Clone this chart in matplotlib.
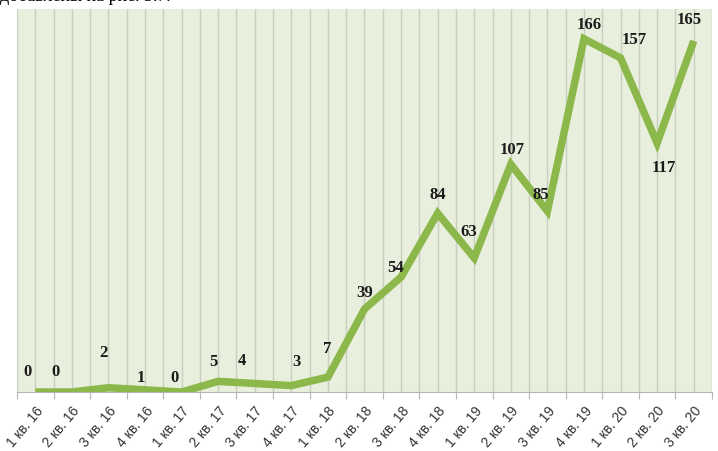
import matplotlib.pyplot as plt
import numpy as np

quarters = ['1 кв. 16', '2 кв. 16', '3 кв. 16', '4 кв. 16',
            '1 кв. 17', '2 кв. 17', '3 кв. 17', '4 кв. 17',
            '1 кв. 18', '2 кв. 18', '3 кв. 18', '4 кв. 18',
            '1 кв. 19', '2 кв. 19', '3 кв. 19', '4 кв. 19',
            '1 кв. 20', '2 кв. 20', '3 кв. 20']
counts = [0, 0, 2, 1, 0, 5, 4, 3, 7, 39, 54, 84, 63, 107, 85, 166, 157, 117, 165]

# label offsets in pixels (dx, dy) relative to each point
offs = [(-8, 21), (-16, 21), (-5, 36), (-4, 13), (-7, 15), (-5, 20), (-13, 23),
        (5, 25), (-1, 29), (0, 17), (-6, 10), (0, 19), (-5, 27), (1, 15),
        (-7, 17), (5, 15), (14, 19), (7, -24), (-5, 22)]

fig = plt.figure(figsize=(7.18, 4.52), dpi=100)
ax = fig.add_axes([17/718, 59/452, 695/718, 383/452])
ax.set_facecolor('#e9efdd')

n = len(quarters)
x = np.arange(n)
ax.set_xlim(-0.5, n - 0.5)
ax.set_ylim(0, 180)

# vertical grid at boundaries and centres
for xv in np.arange(-0.5, n, 0.5):
    ax.axvline(xv, color='#c9cfbf', lw=1.0, zorder=1)

ax.plot(x, counts, color='#8cb84b', lw=5.4, solid_joinstyle='miter',
        solid_capstyle='butt', zorder=3)

for xi, v, (dx, dy) in zip(x, counts, offs):
    ax.annotate(str(v), (xi, v), xytext=(dx*0.72, dy*0.72), textcoords='offset points',
                ha='center', va='center', fontsize=12, fontweight='bold',
                family='Liberation Serif', color='#1a1a1a', zorder=4)

for s in ['top', 'right', 'left']:
    ax.spines[s].set_visible(False)
ax.spines['bottom'].set_color('#b5b5b5')
ax.set_yticks([])
ax.set_xticks(np.arange(-0.5, n, 1.0))
ax.set_xticklabels([])
ax.tick_params(axis='x', length=5, color='#b5b5b5', direction='out')
ax.set_xticks(x, minor=True)
ax.set_xticklabels(quarters, minor=True, rotation=50, ha='right',
                   rotation_mode='anchor', fontsize=10, family='Liberation Sans',
                   color='#333333')
ax.tick_params(axis='x', which='minor', length=0, pad=8)

fig.text(0.0, 1.008, 'добавлены на рис. 3.7.', family='Liberation Serif',
         fontsize=13, va='center', ha='left')

fig.savefig('out.png', dpi=100)
